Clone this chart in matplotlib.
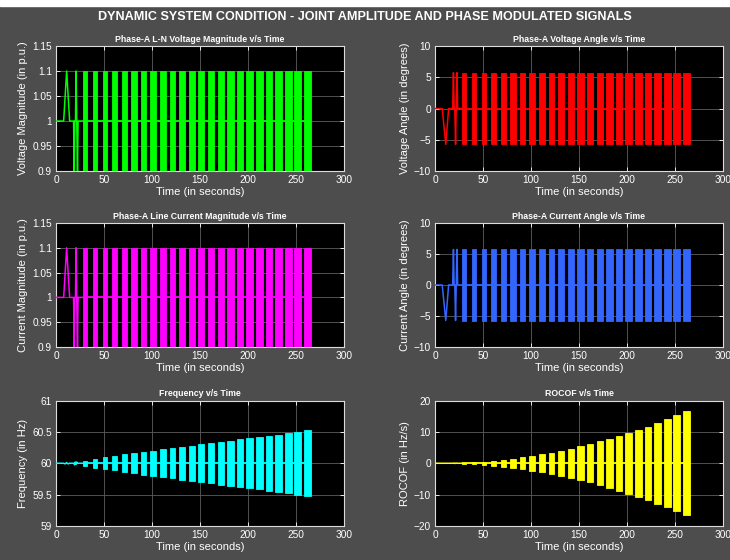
import matplotlib
matplotlib.use('Agg')
import matplotlib.pyplot as plt
from matplotlib.patches import Rectangle

plt.rcParams.update({
    'font.family': ['Liberation Sans', 'DejaVu Sans'],
    'font.size': 7, 'axes.labelsize': 8, 'axes.titlesize': 6.3,
    'xtick.labelsize': 7.3, 'ytick.labelsize': 7.3,
    'text.color': 'white', 'axes.labelcolor': 'white',
    'xtick.color': 'white', 'ytick.color': 'white',
})
BG = '#4d4d4d'

# common time axis
x_ticks = [0, 50, 100, 150, 200, 250, 300]
sig_end = 265.4

# modulation windows (s), one per modulation-frequency step
burst_start = [28.5, 38.5, 48.5, 58.6, 68.5, 78.4, 88.4, 98.4, 108.4, 118.4, 128.4, 138.4,
               148.4, 158.4, 168.4, 178.4, 188.4, 198.4, 208.4, 218.4, 228.4, 238.4, 248.4, 258.4]
burst_end = [32.8, 43.0, 53.4, 63.6, 73.8, 83.9, 94.0, 104.1, 114.3, 124.4, 134.5, 144.6,
             154.7, 164.8, 174.9, 185.0, 195.1, 205.2, 215.3, 225.3, 235.3, 245.4, 255.4, 265.4]

# early low-frequency steps, resolved sample by sample
mag_early_t = [0, 8.0, 11.1, 14.2, 18.3, 19.0, 19.6, 20.3, 20.9, 21.6, 22.4, 23.0, 23.7, 28.5]
mag_early_v = [1.0, 1.0, 1.1, 1.0, 1.0, 0.9, 1.0, 1.0, 1.1, 1.0, 0.9, 1.0, 1.0, 1.0]
ang_early_t = [0, 7.5, 11.2, 14.2, 18.4, 19.2, 19.9, 20.6, 21.4, 22.1, 22.9, 23.6, 28.5]
ang_early_v = [0, 0, -5.73, 0, 0, 5.73, 0, 0, -5.73, 0, 5.73, 0, 0]
freq_early_t = [0, 8.0, 9.5, 11.0, 12.5, 14.0, 18.5, 19.3, 20.1, 20.9, 21.7, 22.5, 28.5]
freq_early_v = [60, 60, 59.99, 60.01, 59.99, 60, 60, 59.975, 60.02, 59.98, 60.02, 60, 60]
rocof_early_t = [0, 19.0, 20.0, 21.0, 22.0, 23.0, 28.5]
rocof_early_v = [0, 0, 0.08, -0.08, 0.08, 0, 0]

# nominal values and peak deviation in each window
mag_nom, mag_dev = 1.0, 0.1
ang_nom, ang_dev = 0.0, 5.73
freq_nom = 60.0
freq_dev = [0.04, 0.075, 0.095, 0.115, 0.14, 0.16, 0.18, 0.2, 0.22, 0.24, 0.26, 0.28,
            0.3, 0.32, 0.34, 0.36, 0.38, 0.395, 0.415, 0.435, 0.455, 0.478, 0.5, 0.524]
rocof_nom = 0.0
rocof_dev = [0.1, 0.3, 0.55, 0.8, 1.1, 1.45, 1.9, 2.4, 2.9, 3.4, 4.0, 4.6,
             5.4, 6.1, 7.0, 7.85, 8.8, 9.8, 10.6, 11.7, 12.9, 14.1, 15.3, 16.5]

mag_ticks = [0.9, 0.95, 1.0, 1.05, 1.1, 1.15]
mag_labels = ['0.9', '0.95', '1', '1.05', '1.1', '1.15']
ang_ticks = [-10, -5, 0, 5, 10]
freq_ticks = [59, 59.5, 60, 60.5, 61]
freq_labels = ['59', '59.5', '60', '60.5', '61']
rocof_ticks = [-20, -10, 0, 10, 20]


def panel(ax, early_t, early_v, nom, dev, color, title, ylabel, ylim, yticks, ylabels=None):
    ax.set_facecolor('black')
    widths = [e - s for s, e in zip(burst_start, burst_end)]
    if isinstance(dev, list):
        bottoms = [nom - d for d in dev]
        heights = [2 * d for d in dev]
    else:
        bottoms, heights = nom - dev, 2 * dev
    ax.bar(burst_start, heights, width=widths, bottom=bottoms, align='edge',
           color=color, edgecolor=color, lw=0.6, zorder=3)
    ax.plot(early_t, early_v, color=color, lw=1.1, zorder=3)
    ax.hlines(nom, early_t[-1], sig_end, color=color, lw=1.3, zorder=3)

    ax.set_xlim(0, 300); ax.set_ylim(*ylim)
    ax.set_xticks(x_ticks)
    ax.set_yticks(yticks)
    if ylabels:
        ax.set_yticklabels(ylabels)
    ax.set_title(title, fontweight='bold', color='white', pad=3)
    ax.set_xlabel('Time (in seconds)', labelpad=1)
    ax.set_ylabel(ylabel, labelpad=3)
    ax.grid(True, color='#5e5e5e', lw=0.6)
    ax.set_axisbelow(True)
    ax.tick_params(direction='in', length=3, width=0.6, pad=3,
                   top=True, right=True)
    for s in ax.spines.values():
        s.set_color('#dcdcdc'); s.set_linewidth(0.8)


fig = plt.figure(figsize=(7.3, 5.6), dpi=100, facecolor=BG)
fig.patches.append(Rectangle((0, 1 - 6 / 560), 1, 6 / 560, transform=fig.transFigure,
                             color='white', zorder=0))
fig.text(0.5, 1 - 17 / 560, 'DYNAMIC SYSTEM CONDITION - JOINT AMPLITUDE AND PHASE MODULATED SIGNALS',
         ha='center', va='center', fontsize=9.1, fontweight='bold', color='white')

xl, xr, w = 0.0767, 0.5959, 0.3945
rows = [(0.6946, 0.2232), (0.3804, 0.2214), (0.0607, 0.2241)]

ax = fig.add_axes([xl, rows[0][0], w, rows[0][1]])
panel(ax, mag_early_t, mag_early_v, mag_nom, mag_dev, '#00ff00',
      'Phase-A L-N Voltage Magnitude v/s Time', 'Voltage Magnitude (in p.u.)',
      (0.9, 1.15), mag_ticks, mag_labels)
ax = fig.add_axes([xr, rows[0][0], w, rows[0][1]])
panel(ax, ang_early_t, ang_early_v, ang_nom, ang_dev, '#ff0000',
      'Phase-A Voltage Angle v/s Time', 'Voltage Angle (in degrees)',
      (-10, 10), ang_ticks)
ax = fig.add_axes([xl, rows[1][0], w, rows[1][1]])
panel(ax, mag_early_t, mag_early_v, mag_nom, mag_dev, '#ff00ff',
      'Phase-A Line Current Magnitude v/s Time', 'Current Magnitude (in p.u.)',
      (0.9, 1.15), mag_ticks, mag_labels)
ax = fig.add_axes([xr, rows[1][0], w, rows[1][1]])
panel(ax, ang_early_t, ang_early_v, ang_nom, ang_dev, '#3366ff',
      'Phase-A Current Angle v/s Time', 'Current Angle (in degrees)',
      (-10, 10), ang_ticks)
ax = fig.add_axes([xl, rows[2][0], w, rows[2][1]])
panel(ax, freq_early_t, freq_early_v, freq_nom, freq_dev, '#00ffff',
      'Frequency v/s Time', 'Frequency (in Hz)',
      (59, 61), freq_ticks, freq_labels)
ax = fig.add_axes([xr, rows[2][0], w, rows[2][1]])
panel(ax, rocof_early_t, rocof_early_v, rocof_nom, rocof_dev, '#ffff00',
      'ROCOF v/s Time', 'ROCOF (in Hz/s)',
      (-20, 20), rocof_ticks)

fig.savefig('out.png', dpi=100, facecolor=fig.get_facecolor())
